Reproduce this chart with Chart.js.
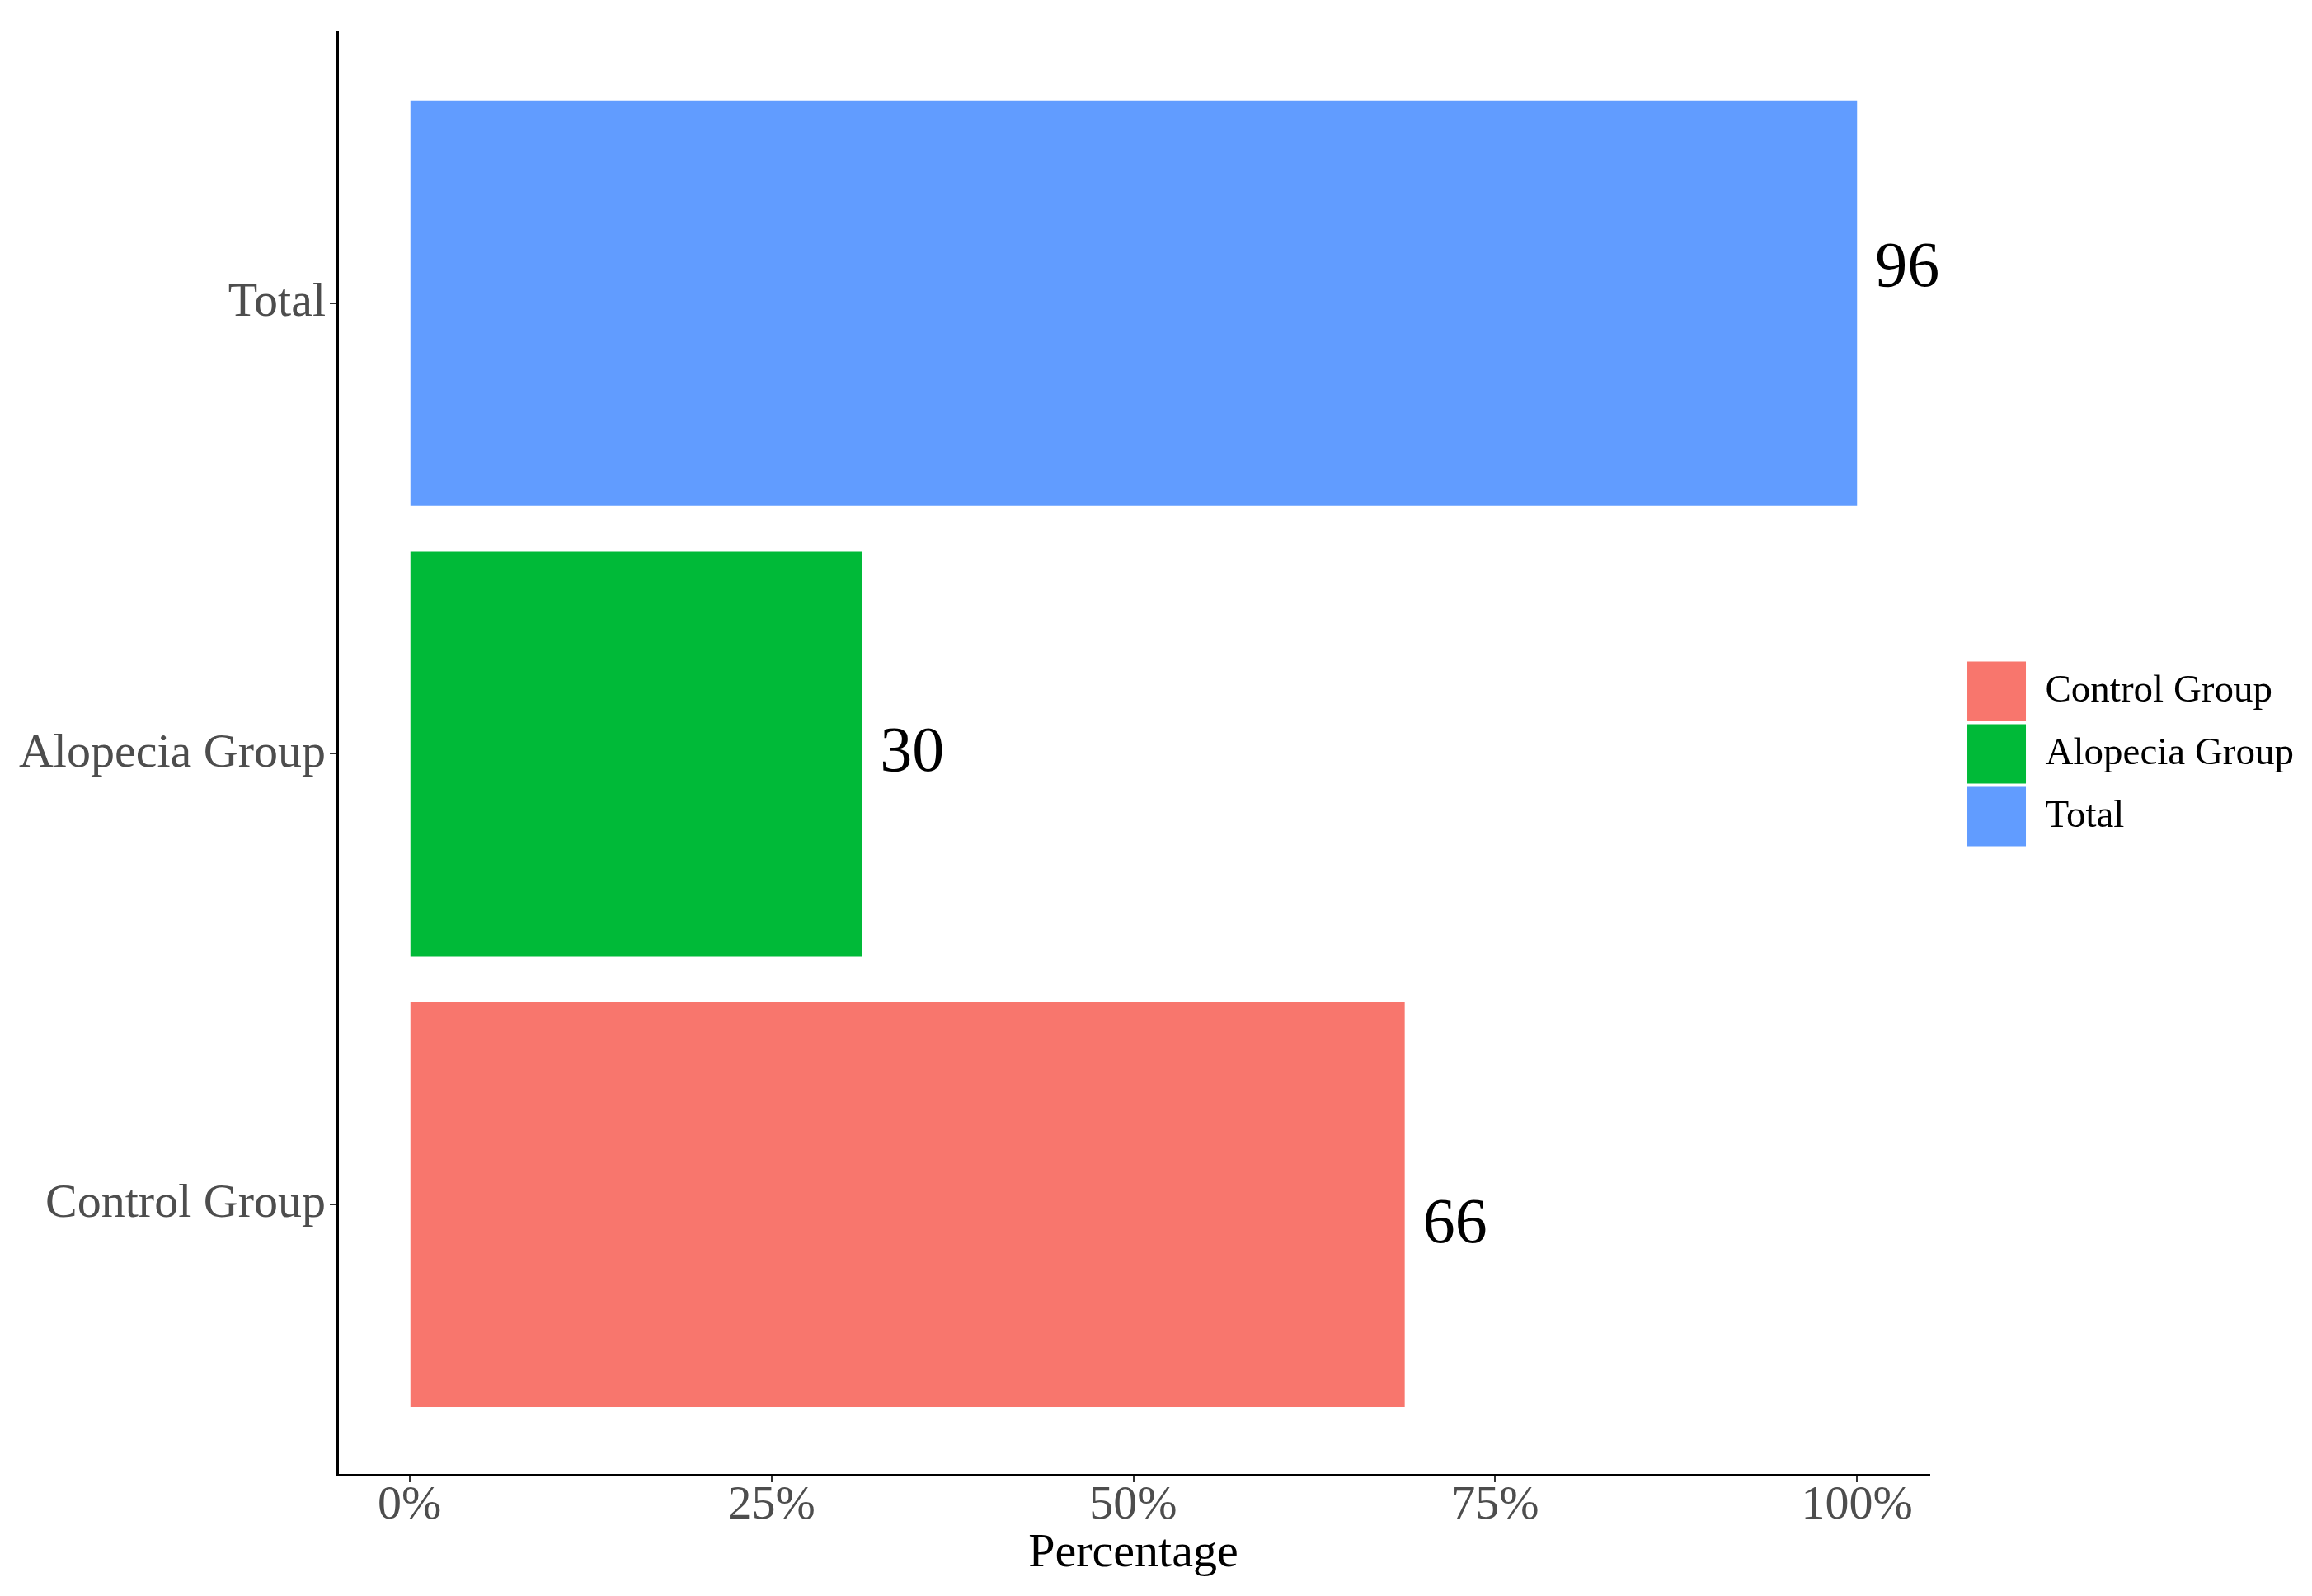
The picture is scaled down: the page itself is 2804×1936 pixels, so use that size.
<!DOCTYPE html>
<html>
<head>
<meta charset="utf-8">
<script src="https://cdn.jsdelivr.net/npm/chart.js@4"></script>
<style>
  html, body { margin: 0; padding: 0; background: #fff; }
  #wrap { width: 2804px; height: 1936px; }
</style>
</head>
<body>
<div id="wrap"><canvas id="barChart"></canvas></div>
<script>
// data
const categories = ['Control Group', 'Alopecia Group', 'Total'];
const counts = [66, 30, 96];
const shares = [0.6875, 0.3125, 1.0]; // share of the total, drawn as bar length
const barColors = ['#F8766D', '#00BA38', '#619CFF'];
const xTickValues = [0, 0.25, 0.5, 0.75, 1];
const xTickLabels = ['0%', '25%', '50%', '75%', '100%'];

// small vertical nudge of the count labels (px), as in the original
const labelNudge = [25, 0, -41];

const serif = '"Liberation Serif", "Times New Roman", serif';

const countLabels = {
    id: 'countLabels',
    afterDatasetsDraw(chart) {
        const ctx = chart.ctx;
        const meta = chart.getDatasetMeta(0);
        ctx.save();
        ctx.font = '78px ' + serif;
        ctx.fillStyle = '#000';
        ctx.textAlign = 'left';
        ctx.textBaseline = 'middle';
        meta.data.forEach(function (bar, i) {
            ctx.fillText(String(counts[i]), bar.x + 22, bar.y + labelNudge[i]);
        });
        ctx.restore();
    }
};

const ctx = document.getElementById('barChart').getContext('2d');
new Chart(ctx, {
    type: 'bar',
    data: {
        datasets: [{
            data: categories.map((c, i) => ({ x: shares[i], y: i + 1 })),
            backgroundColor: barColors,
            borderWidth: 0,
            categoryPercentage: 1.0,
            barPercentage: 0.9
        }]
    },
    options: {
        indexAxis: 'y',
        responsive: true,
        maintainAspectRatio: false,
        devicePixelRatio: 1,
        animation: false,
        layout: { padding: { left: 0, top: 32, right: 12, bottom: 22 } },
        scales: {
            x: {
                type: 'linear',
                min: -0.05,
                max: 1.05,
                afterBuildTicks: function (scale) {
                    scale.ticks = xTickValues.map(v => ({ value: v }));
                },
                ticks: {
                    autoSkip: false,
                    maxRotation: 0,
                    padding: 0,
                    color: '#4d4d4d',
                    font: { family: serif, size: 58, lineHeight: 1 },
                    callback: function (value) {
                        return xTickLabels[xTickValues.indexOf(value)];
                    }
                },
                grid: {
                    drawOnChartArea: false,
                    drawTicks: true,
                    tickLength: 9,
                    color: '#333333',
                    lineWidth: 2
                },
                border: { display: true, color: '#000', width: 3 },
                title: {
                    display: true,
                    text: 'Percentage',
                    color: '#000',
                    font: { family: serif, size: 58, lineHeight: 1 },
                    padding: { top: 0, bottom: 0 }
                }
            },
            y: {
                type: 'linear',
                min: 0.4,
                max: 3.6,
                offset: false,
                afterBuildTicks: function (scale) {
                    scale.ticks = categories.map((c, i) => ({ value: i + 1 }));
                },
                afterFit: function (scale) {
                    scale.width = 409;
                },
                ticks: {
                    autoSkip: false,
                    padding: 5,
                    color: '#4d4d4d',
                    font: { family: serif, size: 58 },
                    callback: function (value) {
                        return categories[value - 1];
                    }
                },
                grid: {
                    offset: false,
                    drawOnChartArea: false,
                    drawTicks: true,
                    tickLength: 9,
                    color: '#333333',
                    lineWidth: 2
                },
                border: { display: true, color: '#000', width: 3 }
            },
            // empty spacer between the plot and the legend
            gap: {
                type: 'linear',
                position: 'right',
                display: true,
                ticks: { display: false },
                grid: { display: false },
                border: { display: false },
                afterFit: function (scale) {
                    scale.width = 42;
                }
            }
        },
        plugins: {
            legend: {
                position: 'right',
                fullSize: false,
                labels: {
                    boxWidth: 71,
                    boxHeight: 72,
                    padding: 4,
                    color: '#000',
                    font: { family: serif, size: 47 },
                    generateLabels: function () {
                        return categories.map((c, i) => ({
                            text: c,
                            fillStyle: barColors[i],
                            strokeStyle: barColors[i],
                            lineWidth: 0,
                            hidden: false,
                            index: i
                        }));
                    }
                }
            },
            tooltip: { enabled: false }
        }
    },
    plugins: [countLabels]
});
</script>
</body>
</html>
